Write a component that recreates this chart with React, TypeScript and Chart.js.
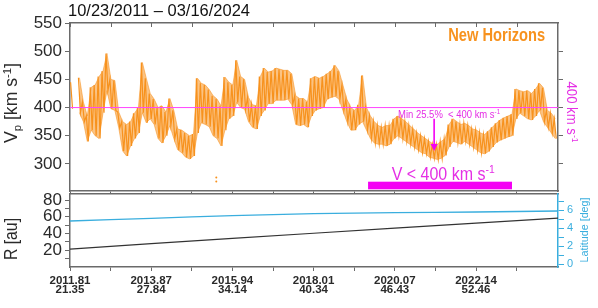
import React, { useEffect, useRef } from 'react';
import { Chart, registerables } from 'chart.js';
Chart.register(...registerables);

const FONT = "'Liberation Sans', Arial, Helvetica, sans-serif";
const ORANGE = '#f7921e';
const ORANGE_FILL = 'rgba(247,146,30,0.55)';
const MAGENTA = '#e52ee5';
const MAGENTA_LINE = '#ff44ff';
const MAGENTA_BAR = '#f400f4';
const BLUE = '#3aaede';
const AXIS = '#6a6a6a';
const TEXT = '#2a2a2a';

// ---- text ----
const dateRange = '10/23/2011 – 03/16/2024';
const spacecraft = 'New Horizons';

// ---- x axis (decimal year) ----
const xMin = 2011.81;
const xMax = 2024.22;
const majorTickYears = [2011.81, 2013.875, 2015.94, 2018.005, 2020.07, 2022.135];
const minorTickYears = [2012.8425, 2014.9075, 2016.9725, 2019.0375, 2021.1025, 2023.1675];
const tickYearLabels = ['2011.81', '2013.87', '2015.94', '2018.01', '2020.07', '2022.14'];
const tickRLabels = ['21.35', '27.84', '34.14', '40.34', '46.43', '52.46'];

// ---- solar wind speed (binned envelope, km/s) ----
const vMin = 252;
const vMax = 550;
const speedTicks = [300, 350, 400, 450, 500, 550];
const speedRightTicks = [300, 350, 400, 450, 500];
const threshold = 400;
const vBinStart = 2011.85;
const vBinStep = 0.1;
const vLow: (number | null)[] = [
  398, null, 391, 375, 340, 360, 350, 345, 391, 430,
  398, 395, 364, 323, 314, 332, 345, 355, 391, 373,
  380, 370, 345, 337, 350, 368, 345, 325, 320, 312,
  309, 314, 355, 373, 370, 366, 350, 345, 332, 360,
  380, 385, 409, 400, 397, 375, 365, 362, 385, 395,
  407, 407, 413, 413, 413, 415, 405, 370, 368, 370,
  365, 385, 395, 398, 400, 415, 418, 420, 415, 395,
  375, 360, 360, 370, 375, 360, 345, 337, 335, 335,
  332, 335, 345, 350, 345, 340, 335, 330, 325, 320,
  318, 312, 310, 308, 310, 315, 330, 340, 338, 335,
  340, 335, 330, 325, 320, 318, 322, 330, 338, 342,
  345, 348, 350, 380, 390, 385, 380, 378, 385, 395,
  375, 365, 355, 345,
];
const vHigh: (number | null)[] = [
  445, null, 453, 410, 385, 436, 440, 455, 465, 496,
  450, 448, 392, 375, 370, 375, 390, 400, 480, 452,
  425, 415, 400, 403, 392, 416, 395, 362, 360, 355,
  350, 353, 452, 443, 440, 432, 421, 415, 403, 454,
  445, 440, 484, 455, 450, 418, 405, 403, 455, 470,
  463, 465, 470, 468, 466, 466, 460, 421, 416, 416,
  410, 452, 455, 452, 455, 460, 465, 475, 465, 440,
  415, 400, 395, 405, 457, 400, 385, 375, 368, 365,
  368, 368, 380, 385, 380, 375, 368, 362, 355, 350,
  345, 340, 335, 335, 340, 345, 370, 380, 375, 370,
  372, 368, 362, 360, 355, 352, 358, 365, 372, 378,
  382, 385, 388, 433, 430, 428, 430, 425, 433, 443,
  435, 395, 390, 380,
];
const outlierYears = [2015.53, 2015.53];
const outlierSpeeds = [269, 276];

// ---- annotations (data coordinates) ----
const lowSpeedSpan = [2019.39, 2023.05];
const lowSpeedBand = [255, 268.5];
const lowSpeedLabelPos = [2021.3, 283];
const minArrowYear = 2021.07;
const minArrowFrom = 380;
const minArrowTo = 323;
const minLabelPos = [2021.45, 388.6];
const craftLabelPos = [2022.66, 528.7];

// ---- distance and latitude ----
const orbitYears = [2011.81, 2013.875, 2015.94, 2018.005, 2020.07, 2022.135, 2024.22];
const rValues = [21.35, 27.84, 34.14, 40.34, 46.43, 52.46, 58.4];
const latValues = [4.78, 5.08, 5.37, 5.6, 5.7, 5.78, 5.89];
const rMin = 0;
const rMax = 87.2;
const rTicks = [10, 20, 30, 40, 50, 60, 70, 80];
const latMin = -0.33;
const latMax = 7.78;
const latTicks = [0, 1, 2, 3, 4, 5, 6, 7];

type Part = { t: string; s?: 'sub' | 'sup' };
function drawRich(
  ctx: CanvasRenderingContext2D,
  parts: Part[],
  cx: number,
  cy: number,
  o: { size: number; color: string; weight?: string; rot?: number; width?: number }
) {
  ctx.save();
  const f = o.size;
  const small = f * 0.65;
  const fnt = (sz: number) => `${o.weight || 'normal'} ${sz}px ${FONT}`;
  let W = 0;
  const ws = parts.map((p) => {
    ctx.font = fnt(p.s ? small : f);
    const w = ctx.measureText(p.t).width;
    W += w;
    return w;
  });
  const sx = o.width ? o.width / W : 1;
  ctx.translate(cx, cy);
  ctx.rotate(o.rot || 0);
  ctx.scale(sx, 1);
  ctx.fillStyle = o.color;
  ctx.textAlign = 'left';
  ctx.textBaseline = 'alphabetic';
  let x = -W / 2;
  const base = f * 0.36;
  parts.forEach((p, i) => {
    ctx.font = fnt(p.s ? small : f);
    const dy = p.s === 'sup' ? -f * 0.38 : p.s === 'sub' ? f * 0.22 : 0;
    ctx.fillText(p.t, x, base + dy);
    x += ws[i];
  });
  ctx.restore();
}

const allTickYears = [...majorTickYears, ...minorTickYears].sort((a, b) => a - b);

const topDecor = {
  id: 'topDecor',
  afterDraw(chart: any) {
    const { ctx, chartArea, scales } = chart;
    const xs = scales.x;
    const ys = scales.y;
    ctx.save();
    ctx.strokeStyle = AXIS;
    ctx.lineWidth = 1;
    allTickYears.forEach((t) => {
      const px = Math.round(xs.getPixelForValue(t)) + 0.5;
      ctx.beginPath();
      ctx.moveTo(px, chartArea.top);
      ctx.lineTo(px, chartArea.top + 4);
      ctx.stroke();
    });
    const bx1 = xs.getPixelForValue(lowSpeedSpan[0]);
    const bx2 = xs.getPixelForValue(lowSpeedSpan[1]);
    const by1 = ys.getPixelForValue(lowSpeedBand[1]);
    const by2 = ys.getPixelForValue(lowSpeedBand[0]);
    ctx.fillStyle = MAGENTA_BAR;
    ctx.fillRect(bx1, by1, bx2 - bx1, by2 - by1);
    const ax = xs.getPixelForValue(minArrowYear);
    const ay1 = ys.getPixelForValue(minArrowFrom);
    const ay2 = ys.getPixelForValue(minArrowTo);
    ctx.strokeStyle = MAGENTA_BAR;
    ctx.fillStyle = MAGENTA_BAR;
    ctx.lineWidth = 1.6;
    ctx.beginPath();
    ctx.moveTo(ax, ay1);
    ctx.lineTo(ax, ay2 - 5);
    ctx.stroke();
    ctx.beginPath();
    ctx.moveTo(ax, ay2);
    ctx.lineTo(ax - 3.5, ay2 - 7);
    ctx.lineTo(ax + 3.5, ay2 - 7);
    ctx.closePath();
    ctx.fill();
    ctx.restore();

    drawRich(ctx, [{ t: 'Min 25.5%  < 400 km s' }, { t: '-1', s: 'sup' }],
      xs.getPixelForValue(minLabelPos[0]), ys.getPixelForValue(minLabelPos[1]),
      { size: 10, color: MAGENTA, width: 102 });
    drawRich(ctx, [{ t: 'V < 400 km s' }, { t: '-1', s: 'sup' }],
      xs.getPixelForValue(lowSpeedLabelPos[0]), ys.getPixelForValue(lowSpeedLabelPos[1]),
      { size: 18, color: MAGENTA, width: 103 });
    drawRich(ctx, [{ t: spacecraft }],
      xs.getPixelForValue(craftLabelPos[0]), ys.getPixelForValue(craftLabelPos[1]),
      { size: 18, color: ORANGE, weight: 'bold', width: 97 });
    drawRich(ctx, [{ t: dateRange }], 159, 10, { size: 17, color: '#111', width: 182 });
    drawRich(ctx, [{ t: 'V' }, { t: 'p', s: 'sub' }, { t: ' [km s' }, { t: '-1', s: 'sup' }, { t: ']' }],
      11, 103, { size: 18, color: TEXT, rot: -Math.PI / 2, width: 80 });
    drawRich(ctx, [{ t: '400 km s' }, { t: '-1', s: 'sup' }],
      572, 112, { size: 15, color: MAGENTA, rot: Math.PI / 2, width: 61 });
  },
};

const bottomDecor = {
  id: 'bottomDecor',
  afterDraw(chart: any) {
    const { ctx } = chart;
    drawRich(ctx, [{ t: 'R [au]' }], 11, 47, { size: 18, color: TEXT, rot: -Math.PI / 2, width: 42 });
    drawRich(ctx, [{ t: 'Latitude [deg]' }], 584, 38, { size: 11, color: BLUE, rot: -Math.PI / 2, width: 65 });
  },
};

function buildSpeedZigzag() {
  const pts: { x: number; y: number | null }[] = [];
  vLow.forEach((lo, i) => {
    const t = vBinStart + i * vBinStep;
    const hi = vHigh[i];
    if (lo == null || hi == null) {
      pts.push({ x: t, y: null });
      return;
    }
    pts.push({ x: t - vBinStep / 4, y: hi }, { x: t + vBinStep / 4, y: lo });
  });
  return pts;
}
const binSeries = (vals: (number | null)[]) =>
  vals.map((v, i) => ({ x: vBinStart + i * vBinStep, y: v }));

const setTicks = (vals: number[]) => (s: any) => {
  s.ticks = vals.map((v) => ({ value: v }));
};
const fixSize = (dim: 'width' | 'height', n: number) => (s: any) => {
  s[dim] = n;
  s.paddingTop = 0;
  s.paddingBottom = 0;
  s.paddingLeft = 0;
  s.paddingRight = 0;
};

export default function App() {
  const topRef = useRef<HTMLCanvasElement>(null);
  const botRef = useRef<HTMLCanvasElement>(null);

  useEffect(() => {
    const top = new Chart(topRef.current as HTMLCanvasElement, {
      type: 'line',
      data: {
        datasets: [
          {
            label: 'Vp high',
            data: binSeries(vHigh) as any,
            borderColor: 'rgba(247,146,30,0.7)',
            borderWidth: 0.8,
            backgroundColor: ORANGE_FILL,
            fill: '+1',
            pointRadius: 0,
            spanGaps: false,
            tension: 0,
          },
          {
            label: 'Vp low',
            data: binSeries(vLow) as any,
            borderColor: 'rgba(247,146,30,0.7)',
            borderWidth: 0.8,
            pointRadius: 0,
            spanGaps: false,
            tension: 0,
            fill: false,
          },
          {
            label: 'Vp',
            data: buildSpeedZigzag() as any,
            borderColor: ORANGE,
            borderWidth: 1.2,
            pointRadius: 0,
            spanGaps: false,
            tension: 0,
            fill: false,
          },
          {
            label: 'outliers',
            type: 'scatter',
            data: outlierYears.map((x, i) => ({ x, y: outlierSpeeds[i] })),
            pointRadius: 1,
            backgroundColor: ORANGE,
            borderWidth: 0,
          } as any,
          {
            label: '400',
            data: [{ x: xMin, y: threshold }, { x: xMax, y: threshold }],
            borderColor: MAGENTA_LINE,
            borderWidth: 1,
            pointRadius: 0,
            fill: false,
            order: -1,
          },
        ],
      },
      options: {
        responsive: false,
        animation: false,
        devicePixelRatio: 1,
        layout: { padding: 0 },
        plugins: { legend: { display: false }, tooltip: { enabled: false }, filler: { propagate: false } },
        scales: {
          x: {
            type: 'linear', position: 'bottom', min: xMin, max: xMax,
            afterBuildTicks: setTicks(allTickYears),
            ticks: { display: false },
            grid: { drawOnChartArea: false, tickLength: 3, color: AXIS },
            border: { color: AXIS, width: 1.5 },
            afterFit: fixSize('height', 5),
          },
          xTop: {
            type: 'linear', position: 'top', min: xMin, max: xMax,
            ticks: { display: false },
            grid: { display: false },
            border: { color: AXIS, width: 1.5 },
            afterFit: fixSize('height', 23),
          },
          y: {
            type: 'linear', position: 'left', min: vMin, max: vMax,
            afterBuildTicks: setTicks(speedTicks),
            ticks: { font: { family: FONT, size: 17 }, color: TEXT, padding: 3, autoSkip: false },
            grid: { drawOnChartArea: false, tickLength: 5, color: AXIS },
            border: { color: AXIS, width: 1.5 },
            afterFit: fixSize('width', 70),
          },
          yRight: {
            type: 'linear', position: 'right', min: vMin, max: vMax,
            afterBuildTicks: setTicks(speedRightTicks),
            ticks: { display: false },
            grid: { drawOnChartArea: false, tickLength: 5, color: AXIS },
            border: { color: AXIS, width: 1.5 },
            afterFit: fixSize('width', 40),
          },
        },
      } as any,
      plugins: [topDecor],
    });

    const bottom = new Chart(botRef.current as HTMLCanvasElement, {
      type: 'line',
      data: {
        datasets: [
          {
            label: 'Latitude',
            data: orbitYears.map((x, i) => ({ x, y: latValues[i] })),
            borderColor: BLUE,
            borderWidth: 1.3,
            pointRadius: 0,
            yAxisID: 'yLat',
            tension: 0.3,
          },
          {
            label: 'R',
            data: orbitYears.map((x, i) => ({ x, y: rValues[i] })),
            borderColor: '#333',
            borderWidth: 1.2,
            pointRadius: 0,
            yAxisID: 'y',
          },
        ],
      },
      options: {
        responsive: false,
        animation: false,
        devicePixelRatio: 1,
        layout: { padding: 0 },
        plugins: { legend: { display: false }, tooltip: { enabled: false } },
        scales: {
          x: {
            type: 'linear', position: 'bottom', min: xMin, max: xMax,
            afterBuildTicks: setTicks(allTickYears),
            ticks: {
              autoSkip: false, maxRotation: 0, minRotation: 0, padding: 6,
              color: TEXT,
              font: { family: FONT, size: 11.5, weight: 'bold', lineHeight: '8.5px' },
              callback: (v: any) => {
                const i = majorTickYears.findIndex((t) => Math.abs(t - Number(v)) < 1e-6);
                return i >= 0 ? [tickYearLabels[i], tickRLabels[i]] : '';
              },
            },
            grid: { drawOnChartArea: false, tickLength: 4, color: AXIS },
            border: { color: AXIS, width: 1.5 },
            afterFit: fixSize('height', 41),
          },
          xTop: {
            type: 'linear', position: 'top', min: xMin, max: xMax,
            ticks: { display: false },
            grid: { display: false },
            border: { color: AXIS, width: 1.5 },
            afterFit: fixSize('height', 2),
          },
          y: {
            type: 'linear', position: 'left', min: rMin, max: rMax,
            afterBuildTicks: setTicks(rTicks),
            ticks: {
              font: { family: FONT, size: 17 }, color: TEXT, padding: 3, autoSkip: false,
              callback: (v: any) => (Number(v) % 20 === 0 ? String(v) : ''),
            },
            grid: { drawOnChartArea: false, tickLength: 5, color: AXIS },
            border: { color: AXIS, width: 1.5 },
            afterFit: fixSize('width', 70),
          },
          yLat: {
            type: 'linear', position: 'right', min: latMin, max: latMax,
            afterBuildTicks: setTicks(latTicks),
            ticks: {
              font: { family: FONT, size: 11 }, color: BLUE, padding: 3, autoSkip: false,
              callback: (v: any) => (Number(v) % 2 === 0 ? String(v) : ''),
            },
            grid: { drawOnChartArea: false, tickLength: 6, color: BLUE },
            border: { color: BLUE, width: 1.5 },
            afterFit: fixSize('width', 40),
          },
        },
      } as any,
      plugins: [bottomDecor],
    });

    return () => {
      top.destroy();
      bottom.destroy();
    };
  }, []);

  return (
    <div style={{ position: 'absolute', left: 0, top: 0, width: 598, height: 308, background: '#fff' }}>
      <canvas ref={topRef} width={598} height={196} style={{ position: 'absolute', left: 0, top: 0 }} />
      <canvas ref={botRef} width={598} height={116} style={{ position: 'absolute', left: 0, top: 192 }} />
    </div>
  );
}
